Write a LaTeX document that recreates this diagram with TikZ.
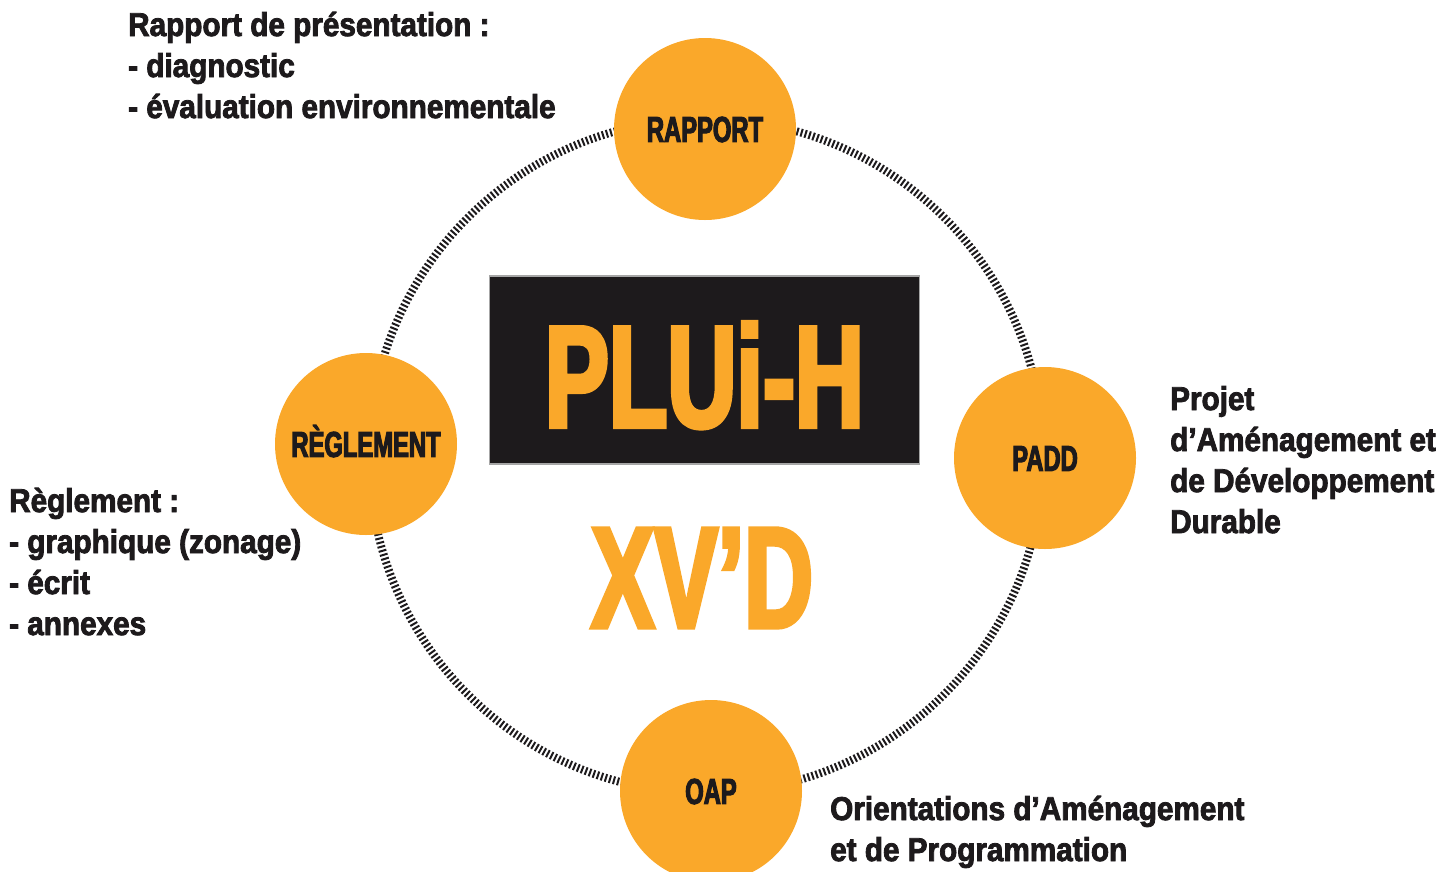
\documentclass[tikz,border=0pt]{standalone}
\usepackage{fontspec}
\newfontfamily\condfont{Liberation Sans}[UprightFont=* Bold,FakeStretch=0.66,FakeBold=3]
\newfontfamily\sidefont{Liberation Sans}[UprightFont=* Bold,FakeStretch=0.9,FakeBold=2.5]
\definecolor{pluiorange}{RGB}{250,168,42}
\definecolor{pluiblack}{RGB}{29,26,28}
\usetikzlibrary{positioning}

\begin{document}
\begin{tikzpicture}[
      x=1pt,y=-1pt,
      ring/.style={draw=pluiblack,line width=8pt,dash pattern=on 2pt off 2.2pt},
      piece/.style={circle,fill=pluiorange,minimum size=182pt,inner sep=0pt,text=pluiblack,
                    font=\condfont\fontsize{36}{36}\selectfont,text height=25.8pt,text depth=0pt},
      desc/.style={align=left,inner sep=0pt,anchor=base west,text=pluiblack,
                   font=\sidefont\fontsize{33}{41}\selectfont},
      titlebox/.style={rectangle,fill=pluiblack,draw=gray!70,line width=1.5pt,
                       minimum width=430pt,minimum height=188pt,inner sep=0pt,text=pluiorange,
                       font=\condfont\fontsize{145}{145}\selectfont,text height=114pt,text depth=0pt}
    ]
    \useasboundingbox (0,0) rectangle (1454,871);

    % Ring
    \draw[ring] (706,456) circle[radius=337];

    % Pieces of the plan
    \node (rapport) [piece] at (705,129)  {RAPPORT};
    \node (padd)    [piece] at (1045,458) {PADD};
    \node (oap)     [piece] at (711,791)  {OAP};
    \node (regl)    [piece] at (366,444)  {RÈGLEMENT};

    % Title
    \node (plui) [titlebox] at (704.5,370) {PLUi-H};
    \node (xvd)  [text=pluiorange,inner sep=0pt,text height=103pt,text depth=0pt,
                  font=\condfont\fontsize{144}{144}\selectfont] at (702,576) {XV’D};

    % Descriptions (anchored on the last line)
    \node (rapdesc)  [desc] at (128,118)  {Rapport de présentation :\\- diagnostic\\- évaluation environnementale};
    \node (padddesc) [desc] at (1170,533) {Projet\\d’Aménagement et\\de Développement\\Durable};
    \node (regldesc) [desc] at (9,635)    {Règlement :\\- graphique (zonage)\\- écrit\\- annexes};
    \node (oapdesc)  [desc] at (830,861)  {Orientations d’Aménagement\\et de Programmation};
  \end{tikzpicture}
\end{document}
